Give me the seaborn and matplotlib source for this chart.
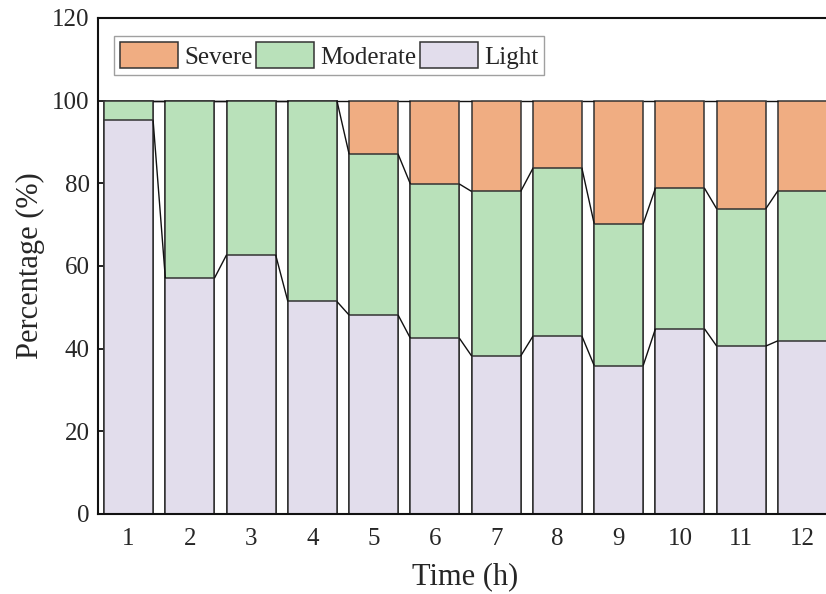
import matplotlib
matplotlib.use("Agg")
import matplotlib.pyplot as plt
import seaborn as sns
import pandas as pd
import numpy as np
from matplotlib.patches import Patch

sns.set_theme(style="ticks")
plt.rcParams["font.family"] = ["Liberation Serif", "DejaVu Serif"]
plt.rcParams["mathtext.fontset"] = "stix"

# Data (percent of samples per hour)
hours = ["1", "2", "3", "4", "5", "6", "7", "8", "9", "10", "11", "12"]
light = [95.2, 57.0, 62.7, 51.4, 48.1, 42.5, 38.2, 43.0, 35.9, 44.8, 40.6, 41.9]
moderate = [4.8, 43.0, 37.3, 48.6, 38.9, 37.3, 39.8, 40.6, 34.3, 34.0, 33.2, 36.3]
severe = [0.0, 0.0, 0.0, 0.0, 13.0, 20.2, 22.0, 16.4, 29.8, 21.2, 26.2, 21.8]

colors = {"Severe": "#F0AD82", "Moderate": "#B9E1BA", "Light": "#E2DDEC"}
edge = "#333333"
bar_w = 0.8

df = pd.DataFrame({"Time": hours, "Light": light, "Moderate": moderate, "Severe": severe})
df["cum_light"] = df["Light"]
df["cum_mod"] = df["Light"] + df["Moderate"]
df["cum_sev"] = df["cum_mod"] + df["Severe"]

fig = plt.figure(figsize=(8.26, 5.94), dpi=100)
# axes run a little past the right edge, as in the cropped reference
ax = fig.add_axes([0.1186, 0.1347, 0.890, 0.8353])

# stacked bars: draw cumulative totals back to front
for col, name in [("cum_sev", "Severe"), ("cum_mod", "Moderate"), ("cum_light", "Light")]:
    sns.barplot(data=df, x="Time", y=col, order=hours, color=colors[name],
                saturation=1, width=bar_w, edgecolor=edge, linewidth=1.1, ax=ax)

# connecting lines between the tops of each segment
pos = np.arange(len(hours))
for col in ["cum_light", "cum_mod", "cum_sev"]:
    vals = df[col].to_numpy()
    for i in range(len(hours) - 1):
        ax.plot([pos[i] + bar_w / 2, pos[i + 1] - bar_w / 2], [vals[i], vals[i + 1]],
                color="#111111", lw=1.0, solid_capstyle="butt", zorder=3)

ax.set_xlim(-0.5, 11.5)
ax.set_ylim(0, 120)
ax.set_yticks([0, 20, 40, 60, 80, 100, 120])
ax.set_xlabel("Time (h)", fontsize=22, labelpad=9)
ax.set_ylabel("Percentage (%)", fontsize=22, labelpad=5)
ax.tick_params(axis="both", direction="in", length=6, width=1.3, labelsize=18, color="#111111")
ax.tick_params(axis="x", pad=10)
ax.tick_params(axis="y", pad=6)
for s in ax.spines.values():
    s.set_linewidth(1.5)
    s.set_color("#111111")

handles = [Patch(facecolor=colors[n], edgecolor=edge, linewidth=1.1, label=n)
           for n in ["Severe", "Moderate", "Light"]]
leg = ax.legend(handles=handles, loc="upper left", bbox_to_anchor=(0.022, 0.963),
                ncol=3, fontsize=18, frameon=True, fancybox=False,
                handlelength=2.3, handleheight=1.2, handletextpad=0.25,
                columnspacing=0.15, borderpad=0.25, borderaxespad=0)
leg.get_frame().set_edgecolor("#888888")
leg.get_frame().set_linewidth(1.0)

fig.savefig("out.png", dpi=100)
